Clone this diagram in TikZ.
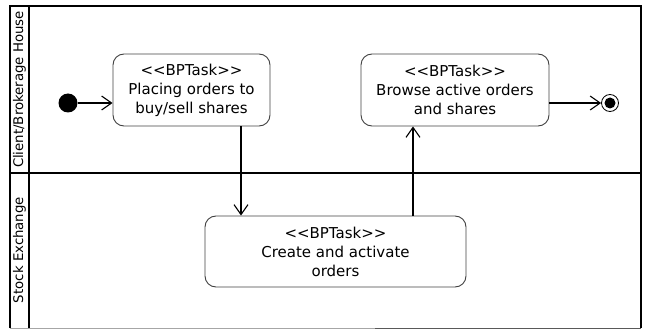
\documentclass[tikz,border=0pt]{standalone}
\usepackage{fontspec}
\setmainfont{DejaVu Sans}
\usetikzlibrary{arrows.meta}
\begin{document}
\begin{tikzpicture}[x=1pt,y=-1pt,
  task/.style={draw=black!75,line width=0.9pt,rounded corners=11pt,align=center,
    font=\fontsize{15}{19}\selectfont,inner sep=0pt},
  flow/.style={line width=1.1pt,-{Straight Barb[length=10pt,width=14pt,line width=1.1pt]}},
  lane/.style={line width=1.6pt},
  lanelabel/.style={rotate=90,font=\fontsize{13.3}{15}\selectfont}]
\useasboundingbox (0,0) rectangle (646,329);
% lanes
\draw[lane] (10,328) -- (10,6) -- (641,6) -- (641,328);
\draw[lane] (29,6) -- (29,328);
\draw[lane] (10,173) -- (641,173);
\draw[line width=1pt,black!35] (10,328) -- (375,328);
\draw[line width=1pt,black!65] (375,328) -- (641,328);
\node[lanelabel] (l1) at (19.5,89.5) {Client/Brokerage House};
\node[lanelabel] (l2) at (19.5,250) {Stock Exchange};
% nodes
\node[circle,fill=black,minimum size=19pt,inner sep=0pt] (init) at (68,103) {};
\node[task,minimum width=157pt,minimum height=72pt] (t1) at (191.5,90) {<{}<BPTask>{}>\\Placing orders to\\buy/sell shares};
\node[task,minimum width=188pt,minimum height=72pt] (t2) at (455,90) {<{}<BPTask>{}>\\Browse active orders\\and shares};
\node[task,minimum width=261pt,minimum height=71pt] (t3) at (335.5,251.5) {<{}<BPTask>{}>\\Create and activate\\orders};
\node[circle,draw=black,line width=0.8pt,minimum size=17pt,inner sep=0pt] (fin) at (610,103) {};
\node[circle,fill=black,minimum size=11pt,inner sep=0pt] (finin) at (fin.center) {};
% flows
\draw[flow] (init) -- (t1.west |- init);
\draw[flow] (t2.east |- fin) -- (fin);
\coordinate (a1) at (241,126);
\draw[flow] (t1.south -| a1) -- (t3.north -| a1);
\coordinate (a2) at (413,126);
\draw[flow] (t3.north -| a2) -- (t2.south -| a2);
\end{tikzpicture}
\end{document}
